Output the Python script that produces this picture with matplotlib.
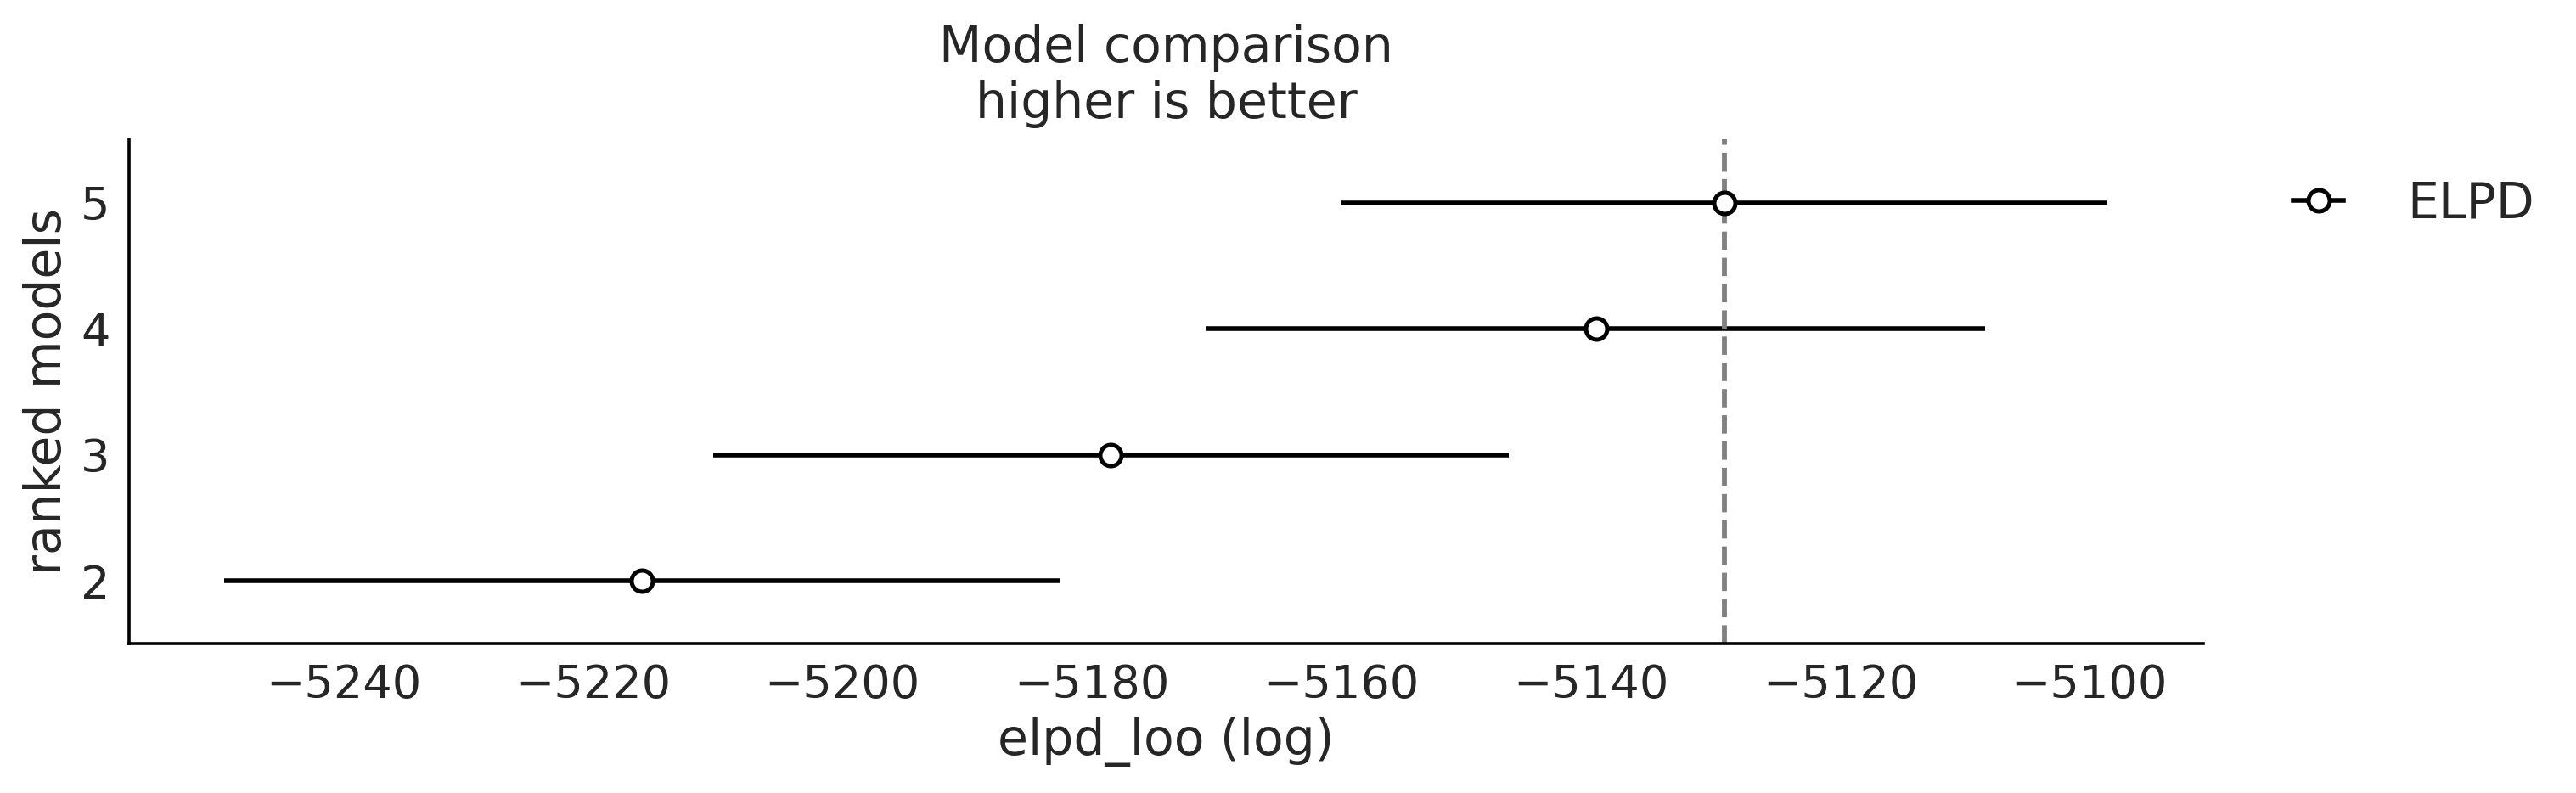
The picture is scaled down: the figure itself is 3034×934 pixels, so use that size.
import matplotlib
matplotlib.use("Agg")
import matplotlib.pyplot as plt
from matplotlib.lines import Line2D

# ranked models and their elpd_loo estimates
ranks = [5, 4, 3, 2]
elpd = [-5129.3, -5139.6, -5178.5, -5216.1]
elpd_se = [30.7, 31.2, 31.9, 33.5]
best_elpd = -5129.3

plt.rcParams['font.family'] = ['DejaVu Sans']
text_color = '#262626'

fig = plt.figure(figsize=(15.17, 4.67), dpi=200)
ax = fig.add_axes([0.0501, 0.188, 0.8052, 0.636])

ax.errorbar(elpd, ranks, xerr=elpd_se, fmt='o', color='black', ecolor='black',
            elinewidth=2.0, markersize=9, markerfacecolor='white',
            markeredgecolor='black', markeredgewidth=1.8)
ax.axvline(best_elpd, ls='--', color='grey', lw=2.1)

ax.set_xlim(-5257.2, -5090.9)
ax.set_ylim(1.5, 5.5)
ax.set_yticks(ranks)
ax.set_xticks([-5240, -5220, -5200, -5180, -5160, -5140, -5120, -5100])

for side in ['top', 'right']:
    ax.spines[side].set_visible(False)
for side in ['left', 'bottom']:
    ax.spines[side].set_linewidth(1.3)
ax.tick_params(length=0, labelsize=19.5, colors=text_color, pad=8)

ax.set_title('Model comparison\nhigher is better', fontsize=21, color=text_color, pad=9)
ax.set_xlabel('elpd_loo (log)', fontsize=21, color=text_color)
ax.set_ylabel('ranked models', fontsize=21, color=text_color)

handle = Line2D([], [], color='black', lw=2.0, marker='o', markersize=9,
                markerfacecolor='white', markeredgecolor='black', markeredgewidth=1.8)
fig.legend([handle], ['ELPD'], loc='center left', bbox_to_anchor=(0.8827, 0.743),
           bbox_transform=fig.transFigure, frameon=False, fontsize=21,
           labelcolor=text_color, borderaxespad=0, handlelength=1.0, handletextpad=1.3)

fig.savefig('out.png', dpi=200)
